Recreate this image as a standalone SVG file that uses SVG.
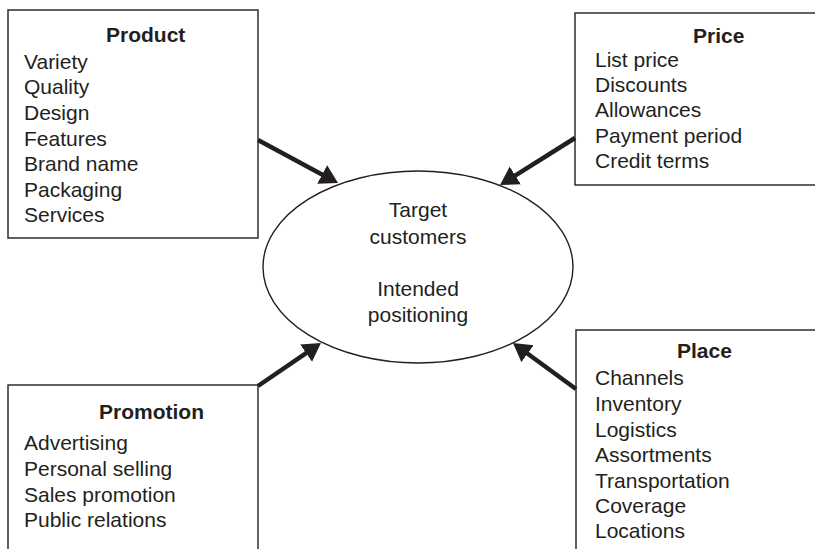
<svg xmlns="http://www.w3.org/2000/svg" width="815" height="549" viewBox="0 0 815 549">
<style>
.box{fill:#fff;stroke:#231f20;stroke-width:1.4}
.t{font-family:"Liberation Sans",Arial,sans-serif;font-size:21px;fill:#231f20}
.h{font-weight:bold}
.c{text-anchor:middle}
.arr{stroke:#231f20;stroke-width:4.5;fill:none;marker-end:url(#ah)}
</style>
<defs>
<marker id="ah" markerUnits="userSpaceOnUse" markerWidth="20" markerHeight="22" refX="4" refY="10.5" orient="auto" viewBox="0 0 20 21">
<path d="M0,0 L18,10.5 L0,21 z" fill="#231f20"/>
</marker>
</defs>
<rect width="815" height="549" fill="#fff"/>
<g id="product">
<rect class="box" x="8" y="10" width="250" height="228"/>
<text class="t h" x="106" y="42">Product</text>
<text class="t" x="24" y="69">Variety</text>
<text class="t" x="24" y="94">Quality</text>
<text class="t" x="24" y="120">Design</text>
<text class="t" x="24" y="146">Features</text>
<text class="t" x="24" y="171">Brand name</text>
<text class="t" x="24" y="197">Packaging</text>
<text class="t" x="24" y="222">Services</text>
</g>
<g id="price">
<rect class="box" x="575" y="13" width="260" height="172"/>
<text class="t h" x="693" y="43">Price</text>
<text class="t" x="595" y="67">List price</text>
<text class="t" x="595" y="92">Discounts</text>
<text class="t" x="595" y="117">Allowances</text>
<text class="t" x="595" y="143">Payment period</text>
<text class="t" x="595" y="168">Credit terms</text>
</g>
<g id="promotion">
<rect class="box" x="8" y="385" width="250" height="200"/>
<text class="t h" x="99" y="419">Promotion</text>
<text class="t" x="24" y="450">Advertising</text>
<text class="t" x="24" y="476">Personal selling</text>
<text class="t" x="24" y="502">Sales promotion</text>
<text class="t" x="24" y="527">Public relations</text>
</g>
<g id="place">
<rect class="box" x="576" y="330" width="260" height="240"/>
<text class="t h" x="677" y="358">Place</text>
<text class="t" x="595" y="385">Channels</text>
<text class="t" x="595" y="411">Inventory</text>
<text class="t" x="595" y="437">Logistics</text>
<text class="t" x="595" y="462">Assortments</text>
<text class="t" x="595" y="488">Transportation</text>
<text class="t" x="595" y="513">Coverage</text>
<text class="t" x="595" y="538">Locations</text>
</g>
<g id="target">
<ellipse class="box" cx="418" cy="267" rx="155" ry="96"/>
<text class="t c" x="418" y="217">Target</text>
<text class="t c" x="418" y="244">customers</text>
<text class="t c" x="418" y="296">Intended</text>
<text class="t c" x="418" y="322">positioning</text>
</g>
<g id="connectors">
<line class="arr" x1="258" y1="140" x2="325.7" y2="176.4"/>
<line class="arr" x1="575" y1="138" x2="511.9" y2="177.6"/>
<line class="arr" x1="258" y1="386" x2="309.4" y2="350.9"/>
<line class="arr" x1="576" y1="389" x2="524.3" y2="351.3"/>
</g>
</svg>
